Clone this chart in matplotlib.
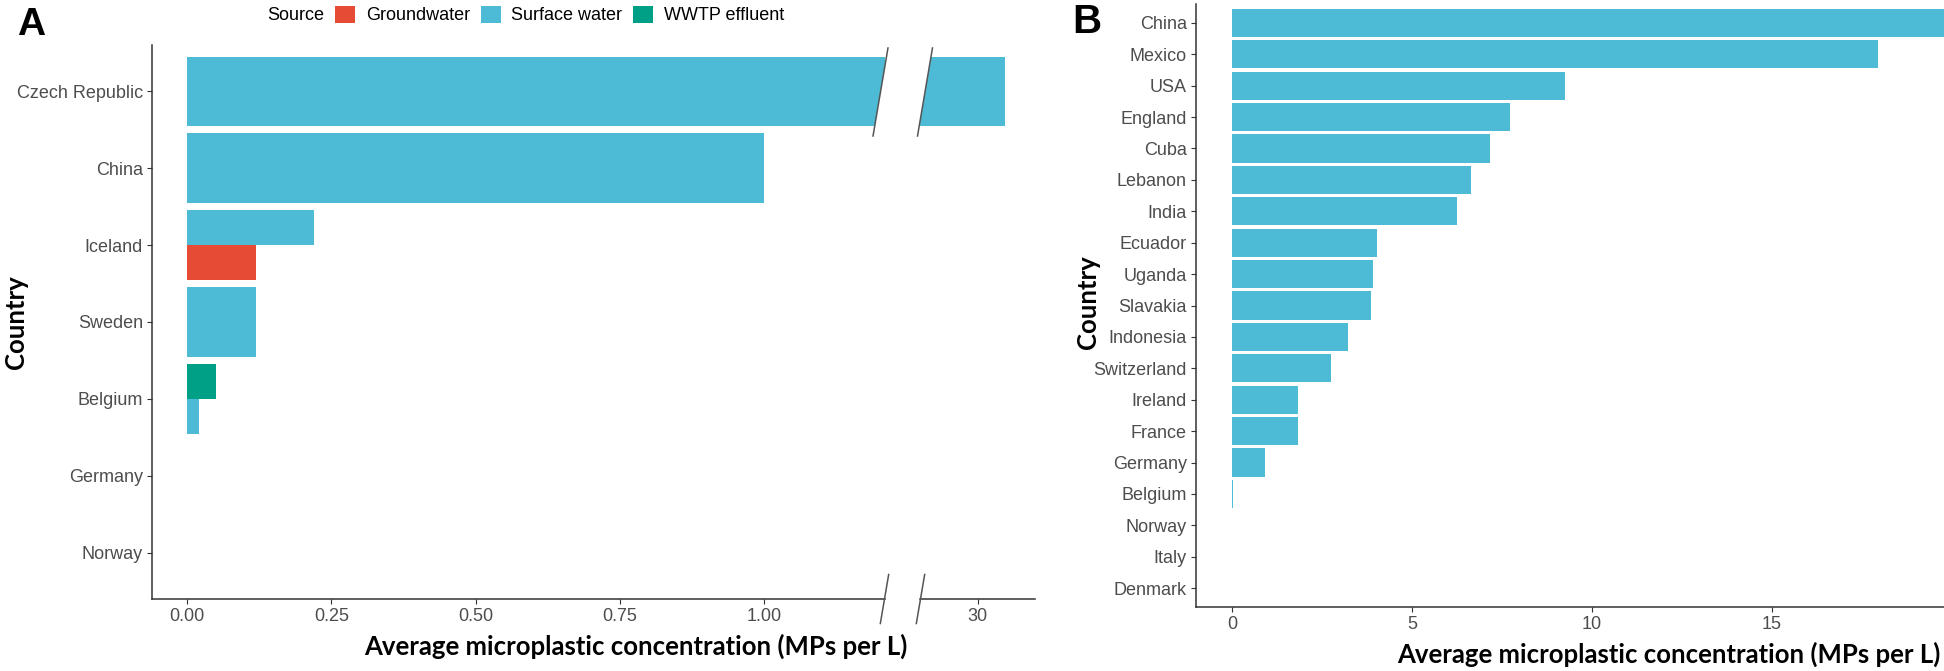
import numpy as np
import matplotlib
matplotlib.use("Agg")
import matplotlib.pyplot as plt
from matplotlib.lines import Line2D
from matplotlib.patches import Patch, Polygon

# ---------------- data ----------------
# panel A: one row per (country, source)
a_countries = ["Czech Republic", "China", "Iceland", "Sweden", "Belgium", "Germany", "Norway"]
a_country = ["Czech Republic", "China", "Iceland", "Iceland", "Sweden",
             "Belgium", "Belgium", "Germany", "Norway"]
a_source = ["Surface water", "Surface water", "Groundwater", "Surface water", "Surface water",
            "Surface water", "WWTP effluent", "Surface water", "Surface water"]
a_value = [30.47, 1.00, 0.12, 0.22, 0.12, 0.02, 0.05, 0.0, 0.0]

sources = ["Groundwater", "Surface water", "WWTP effluent"]
source_colors = ["#E64B35", "#4DBBD5", "#00A087"]

# panel B
b_countries = ["China", "Mexico", "USA", "England", "Cuba", "Lebanon", "India", "Ecuador",
               "Uganda", "Slavakia", "Indonesia", "Switzerland", "Ireland", "France",
               "Germany", "Belgium", "Norway", "Italy", "Denmark"]
b_value = [20.0, 17.96, 9.25, 7.72, 7.16, 6.63, 6.25, 4.02, 3.92, 3.85, 3.22, 2.74,
           1.82, 1.82, 0.92, 0.04, 0.0, 0.0, 0.0]

W, H = 1944, 671
TICK_COL = "#4D4D4D"
AX_COL = "#333333"
LABEL_FONT = ["Liberation Sans", "DejaVu Sans"]
TITLE_FONT = ["Lato", "DejaVu Sans"]

plt.rcParams["font.family"] = LABEL_FONT

fig = plt.figure(figsize=(W / 100, H / 100), dpi=100)


def px_axes(x0, x1, y0, y1):
    # pixel box (top-left origin) -> figure axes
    return fig.add_axes([x0 / W, 1 - y1 / H, (x1 - x0) / W, (y1 - y0) / H])


def style(ax, left=True):
    for s in ["top", "right"]:
        ax.spines[s].set_visible(False)
    ax.spines["left"].set_visible(left)
    for s in ["left", "bottom"]:
        ax.spines[s].set_color(AX_COL)
        ax.spines[s].set_linewidth(1.1)
    ax.tick_params(axis="both", colors=AX_COL, labelcolor=TICK_COL, labelsize=13,
                   length=3.5, width=0.8, pad=3)
    if not left:
        ax.tick_params(axis="y", left=False, labelleft=False)


def draw_dodged(ax):
    n = len(a_countries)
    for ci, c in enumerate(a_countries):
        y = n - 1 - ci
        rows = [i for i in range(len(a_country)) if a_country[i] == c]
        rows.sort(key=lambda i: sources.index(a_source[i]))
        k = len(rows)
        w = 0.9 / k
        for j, i in enumerate(rows):
            yy = y - 0.45 + (j + 0.5) * w
            ax.barh(yy, a_value[i], height=w, color=source_colors[sources.index(a_source[i])],
                    linewidth=0)
    ax.set_ylim(-0.6, n - 1 + 0.6)


# ---------------- panel A ----------------
axA = px_axes(152, 885, 45, 599)
axA2 = px_axes(920, 1035, 45, 599)
for ax in (axA, axA2):
    draw_dodged(ax)
axA.set_xlim(-0.061, 1.21)
axA.set_xticks([0, 0.25, 0.5, 0.75, 1.0])
axA.set_xticklabels(["0.00", "0.25", "0.50", "0.75", "1.00"])
axA.set_yticks(range(len(a_countries)))
axA.set_yticklabels(a_countries[::-1])
style(axA)

axA2.set_xlim(29, 31)
axA2.set_xticks([30])
style(axA2, left=False)


def to_fig(pts):
    # pixel coords (top-left origin) -> figure fraction
    pts = np.asarray(pts, dtype=float)
    return np.column_stack([pts[:, 0] / W, 1 - pts[:, 1] / H])


def slash(xc, yc, half_h, slope=0.17):
    p = to_fig([(xc - half_h * slope, yc + half_h), (xc + half_h * slope, yc - half_h)])
    fig.add_artist(Line2D(p[:, 0], p[:, 1], transform=fig.transFigure,
                          color="#555555", lw=1.1, zorder=5))


def cut(xc, yc, half_h, side, slope=0.17):
    # white wedge that trims the bar along the slash
    xb, xt = xc - half_h * slope, xc + half_h * slope
    if side == "right":
        pts = [(xb, yc + half_h), (xt, yc - half_h), (xt + 8, yc - half_h), (xt + 8, yc + half_h)]
    else:
        pts = [(xb - 8, yc + half_h), (xb - 8, yc - half_h), (xt, yc - half_h), (xb, yc + half_h)]
    fig.add_artist(Polygon(to_fig(pts), closed=True, transform=fig.transFigure,
                           facecolor="white", edgecolor="none", zorder=4))


# break marks on the Czech bar and the axis
bar_y = 92
cut(880.5, bar_y, 44, "right")
cut(925, bar_y, 44, "left")
slash(880.5, bar_y, 44)
slash(925, bar_y, 44)
slash(884.5, 599, 24.5)
slash(920.5, 599, 24.5)

# legend
fig.text(267 / W, 1 - 15 / H, "Source", ha="left", va="center", fontsize=13, color="black")
handles = [Patch(facecolor=c, edgecolor="none") for c in source_colors]
fig.legend(handles, sources, loc="center left", bbox_to_anchor=(335 / W, 1 - 15 / H),
           ncol=3, frameon=False, fontsize=13, handlelength=1.1, handleheight=1.1,
           handletextpad=0.6, columnspacing=0.6, borderpad=0, borderaxespad=0)

fig.text(17 / W, 1 - 7 / H, "A", ha="left", va="top", fontsize=28, fontweight="heavy")
fig.text(636 / W, 1 - 655 / H, "Average microplastic concentration (MPs per L)",
         ha="center", va="baseline", fontsize=18.5, fontweight="bold", family=TITLE_FONT)
fig.text(16 / W, 1 - 322 / H, "Country", rotation=90, ha="center", va="center",
         fontsize=18.5, fontweight="bold", family=TITLE_FONT)

# ---------------- panel B ----------------
axB = px_axes(1196, 1944, 4, 607)
nb = len(b_countries)
yb = np.arange(nb)[::-1]
axB.barh(yb, b_value, height=0.9, color="#4DBBD5", linewidth=0)
axB.set_ylim(-0.6, nb - 1 + 0.6)
axB.set_xlim(-1.0, 19.78)
axB.set_xticks([0, 5, 10, 15])
axB.set_yticks(yb)
axB.set_yticklabels(b_countries)
style(axB)

fig.text(1072 / W, 1 - 3 / H, "B", ha="left", va="top", fontsize=29, fontweight="heavy")
fig.text(1669 / W, 1 - 663 / H, "Average microplastic concentration (MPs per L)",
         ha="center", va="baseline", fontsize=18.5, fontweight="bold", family=TITLE_FONT)
fig.text(1088 / W, 1 - 302 / H, "Country", rotation=90, ha="center", va="center",
         fontsize=18.5, fontweight="bold", family=TITLE_FONT)

fig.savefig("out.png", dpi=100, facecolor="white")
